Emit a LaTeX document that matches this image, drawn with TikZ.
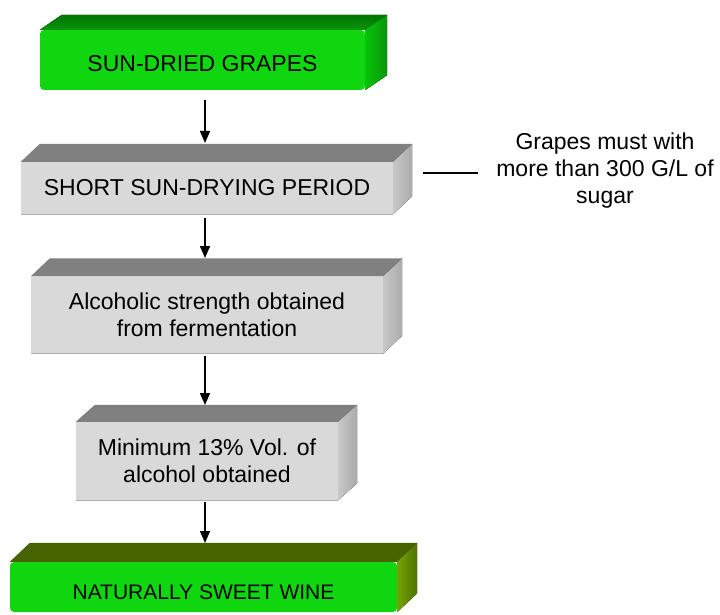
\documentclass[tikz,border=0pt]{standalone}
\usepackage{fontspec}
\setmainfont{Liberation Sans}
\usetikzlibrary{calc,arrows.meta}
\definecolor{gfront}{RGB}{16,214,16}
\definecolor{gtopback}{RGB}{0,115,0}
\definecolor{gtopfront}{RGB}{10,150,10}
\definecolor{gside}{RGB}{8,195,8}
\definecolor{otop}{RGB}{72,100,0}
\definecolor{oside}{RGB}{115,165,0}
\definecolor{grfront}{RGB}{217,217,217}
\definecolor{grtop}{RGB}{128,128,128}
\definecolor{grside}{RGB}{200,200,200}
\definecolor{grline}{RGB}{175,175,175}
\tikzset{
  txt/.style={font=\fontsize{23}{27}\selectfont, align=center, text=black},
  greenbox/.style={fill=gfront, rounded corners=4pt, inner sep=0pt},
  graybox/.style={txt, fill=grfront, inner sep=0pt},
  arr/.style={-{Triangle[length=12pt,width=10pt]}, line width=1.5pt, black},
  noteline/.style={line width=1.2pt, black}
}
\newcommand\boxfaces[5]{% node, dx, dy, top style, side style
  \fill[#4] (#1.north west) -- ++(#2,#3) -- ($(#1.north east)+(#2,#3)$) -- (#1.north east) -- cycle;
  \fill[#5] (#1.north east) -- ++(#2,#3) -- ($(#1.south east)+(#2,#3)$) -- (#1.south east) -- cycle;
}
\begin{document}
\begin{tikzpicture}[x=1pt,y=-1pt]
\useasboundingbox (0,0) rectangle (720,615);

% box 1
\node[greenbox, minimum width=325pt, minimum height=60pt] (b1) at (202.5,60) {};
\node[txt, inner sep=0pt] (b1t) at ([yshift=-4pt]b1.center) {SUN-DRIED GRAPES};
\boxfaces{b1}{22}{-15}{top color=gtopback, bottom color=gtopfront}{left color=gside, right color=gtopfront}

% box 2
\node[graybox, minimum width=372pt, minimum height=52pt] (b2) at (207,188) {SHORT SUN-DRYING PERIOD};
\boxfaces{b2}{19}{-18}{grtop}{left color=grside, right color=grside!85!black}
\draw[grline, line width=1pt] (b2.south west) -- (b2.south east);

% box 3
\node[graybox, minimum width=352pt, minimum height=77pt] (b3) at (207,315) {Alcoholic strength obtained\\from fermentation};
\boxfaces{b3}{19}{-18}{grtop}{left color=grside, right color=grside!85!black}
\draw[grline, line width=1pt] (b3.south west) -- (b3.south east);

% box 4
\node[graybox, minimum width=262pt, minimum height=78pt] (b4) at (207,461) {Minimum 13\% Vol. of\\alcohol obtained};
\boxfaces{b4}{19}{-17}{grtop}{left color=grside, right color=grside!85!black}
\draw[grline, line width=1pt] (b4.south west) -- (b4.south east);

% box 5
\node[greenbox, minimum width=387pt, minimum height=50pt] (b5) at (203.5,587) {};
\node[txt, font=\fontsize{21}{25}\selectfont, inner sep=0pt] (b5t) at ([yshift=-5pt]b5.center) {NATURALLY SWEET WINE};
\boxfaces{b5}{20}{-19}{otop}{left color=oside, right color=otop!80!oside}

% note
\node[txt, inner sep=0pt] (note) at (605,171) {Grapes must with\\more than 300 G/L of\\sugar};
\coordinate (nl) at ($(note.west)+(-73,2)$);
\draw[noteline] (nl) -- ($(note.west)+(-18,2)$);

% arrows
\coordinate (t2) at (205,143);
\coordinate (t3) at (205,258);
\coordinate (t4) at (205,405);
\coordinate (t5) at (205,543);
\draw[arr] ([yshift=-10pt]b1.south -| t2) -- (t2);
\draw[arr] ([yshift=-4pt]b2.south -| t3) -- (t3);
\draw[arr] ([yshift=-2pt]b3.south -| t4) -- (t4);
\draw[arr] ([yshift=-2pt]b4.south -| t5) -- (t5);
\end{tikzpicture}
\end{document}
